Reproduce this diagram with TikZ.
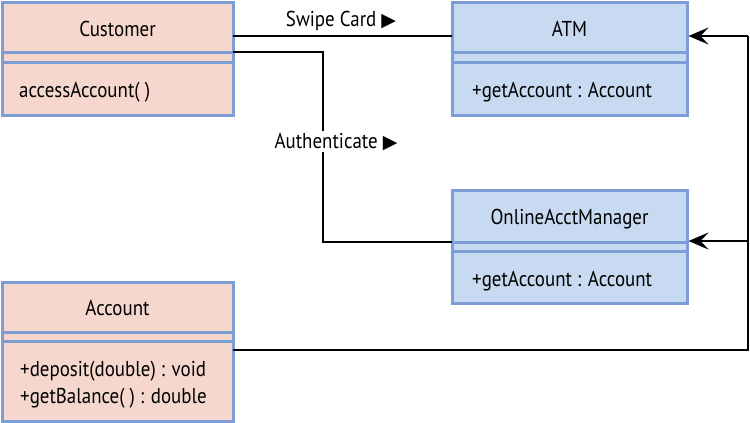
\documentclass[tikz,border=0pt]{standalone}
\usepackage{fontspec}
\setmainfont{PT Sans}[FakeStretch=0.88]
\newfontfamily\symfont{DejaVu Sans}
\usetikzlibrary{arrows.meta}
\definecolor{pinkfill}{HTML}{F6D7CD}
\definecolor{bluefill}{HTML}{C7DAF1}
\definecolor{border}{HTML}{7C9DD5}
\tikzset{
  comp/.style={draw=border, line width=3pt, inner sep=0pt, outer sep=0pt, anchor=north west, minimum width=231pt},
  pinkc/.style={comp, fill=pinkfill},
  bluec/.style={comp, fill=bluefill, minimum width=235pt},
  txt/.style={font=\fontsize{21.5}{22}\selectfont, inner sep=0pt, anchor=base},
  optxt/.style={txt, anchor=base west},
  conn/.style={line width=2pt, black},
  arr/.style={conn, -{Stealth[length=20pt,width=17pt,inset=8pt]}},
  lbl/.style={txt, fill=white, inner sep=2pt},
}
\newcommand{\tri}{{\symfont\fontsize{19}{19}\selectfont ▶}}
\begin{document}
\begin{tikzpicture}[x=1pt, y=-1pt]
\useasboundingbox (0,0) rectangle (750,423);
% Customer
\node[pinkc, minimum height=50pt] (custN) at (2,2) {};
\node[pinkc, minimum height=10pt] (custA) at (2,52) {};
\node[pinkc, minimum height=53pt] (custO) at (2,62) {};
\node[txt] (custT) at (custN.center |- 0,36) {Customer};
\node[optxt] (custOp) at (custO.west |- 19,97) {\hspace{17pt}accessAccount( )};
% ATM
\node[bluec, minimum height=50pt] (atmN) at (452,2) {};
\node[bluec, minimum height=10pt] (atmA) at (452,52) {};
\node[bluec, minimum height=53pt] (atmO) at (452,62) {};
\node[txt] (atmT) at (atmN.center |- 0,36) {ATM};
\node[optxt] (atmOp) at (atmO.west |- 0,97) {\hspace{20pt}+getAccount : Account};
% OnlineAcctManager
\node[bluec, minimum height=52pt] (omN) at (452,190) {};
\node[bluec, minimum height=9pt] (omA) at (452,242) {};
\node[bluec, minimum height=52pt] (omO) at (452,251) {};
\node[txt] (omT) at (omN.center |- 0,224) {OnlineAcctManager};
\node[optxt] (omOp) at (omO.west |- 0,286) {\hspace{20pt}+getAccount : Account};
% Account
\node[pinkc, minimum height=50pt] (accN) at (2,282) {};
\node[pinkc, minimum height=9pt] (accA) at (2,332) {};
\node[pinkc, minimum height=80pt] (accO) at (2,341) {};
\node[txt] (accT) at (accN.center |- 0,315) {Account};
\node[optxt] (accOp1) at (accO.west |- 0,376) {\hspace{18pt}+deposit(double) : void};
\node[optxt] (accOp2) at (accO.west |- 0,403) {\hspace{18pt}+getBalance( ) : double};
% connectors
\draw[conn] (custN.east |- 0,36) -- (atmN.west |- 0,36);
\node[lbl] (swipe) at (341,26) {Swipe Card \tri};
\draw[conn] (custN.south east) -- ++(90,0) coordinate (bend) |- (omN.south west);
\node[lbl] (auth) at (336,148) {Authenticate \tri};
\coordinate (jr) at (748,350);
\coordinate (jom) at (748,241);
\draw[conn] (accO.east |- jr) -- (jr) -- (748,36) coordinate (jtop);
\draw[arr] (jtop) -- ([xshift=1.5pt]atmN.east |- jtop);
\draw[arr] (jom) -- ([xshift=1.5pt]omN.east |- jom);
\end{tikzpicture}
\end{document}
